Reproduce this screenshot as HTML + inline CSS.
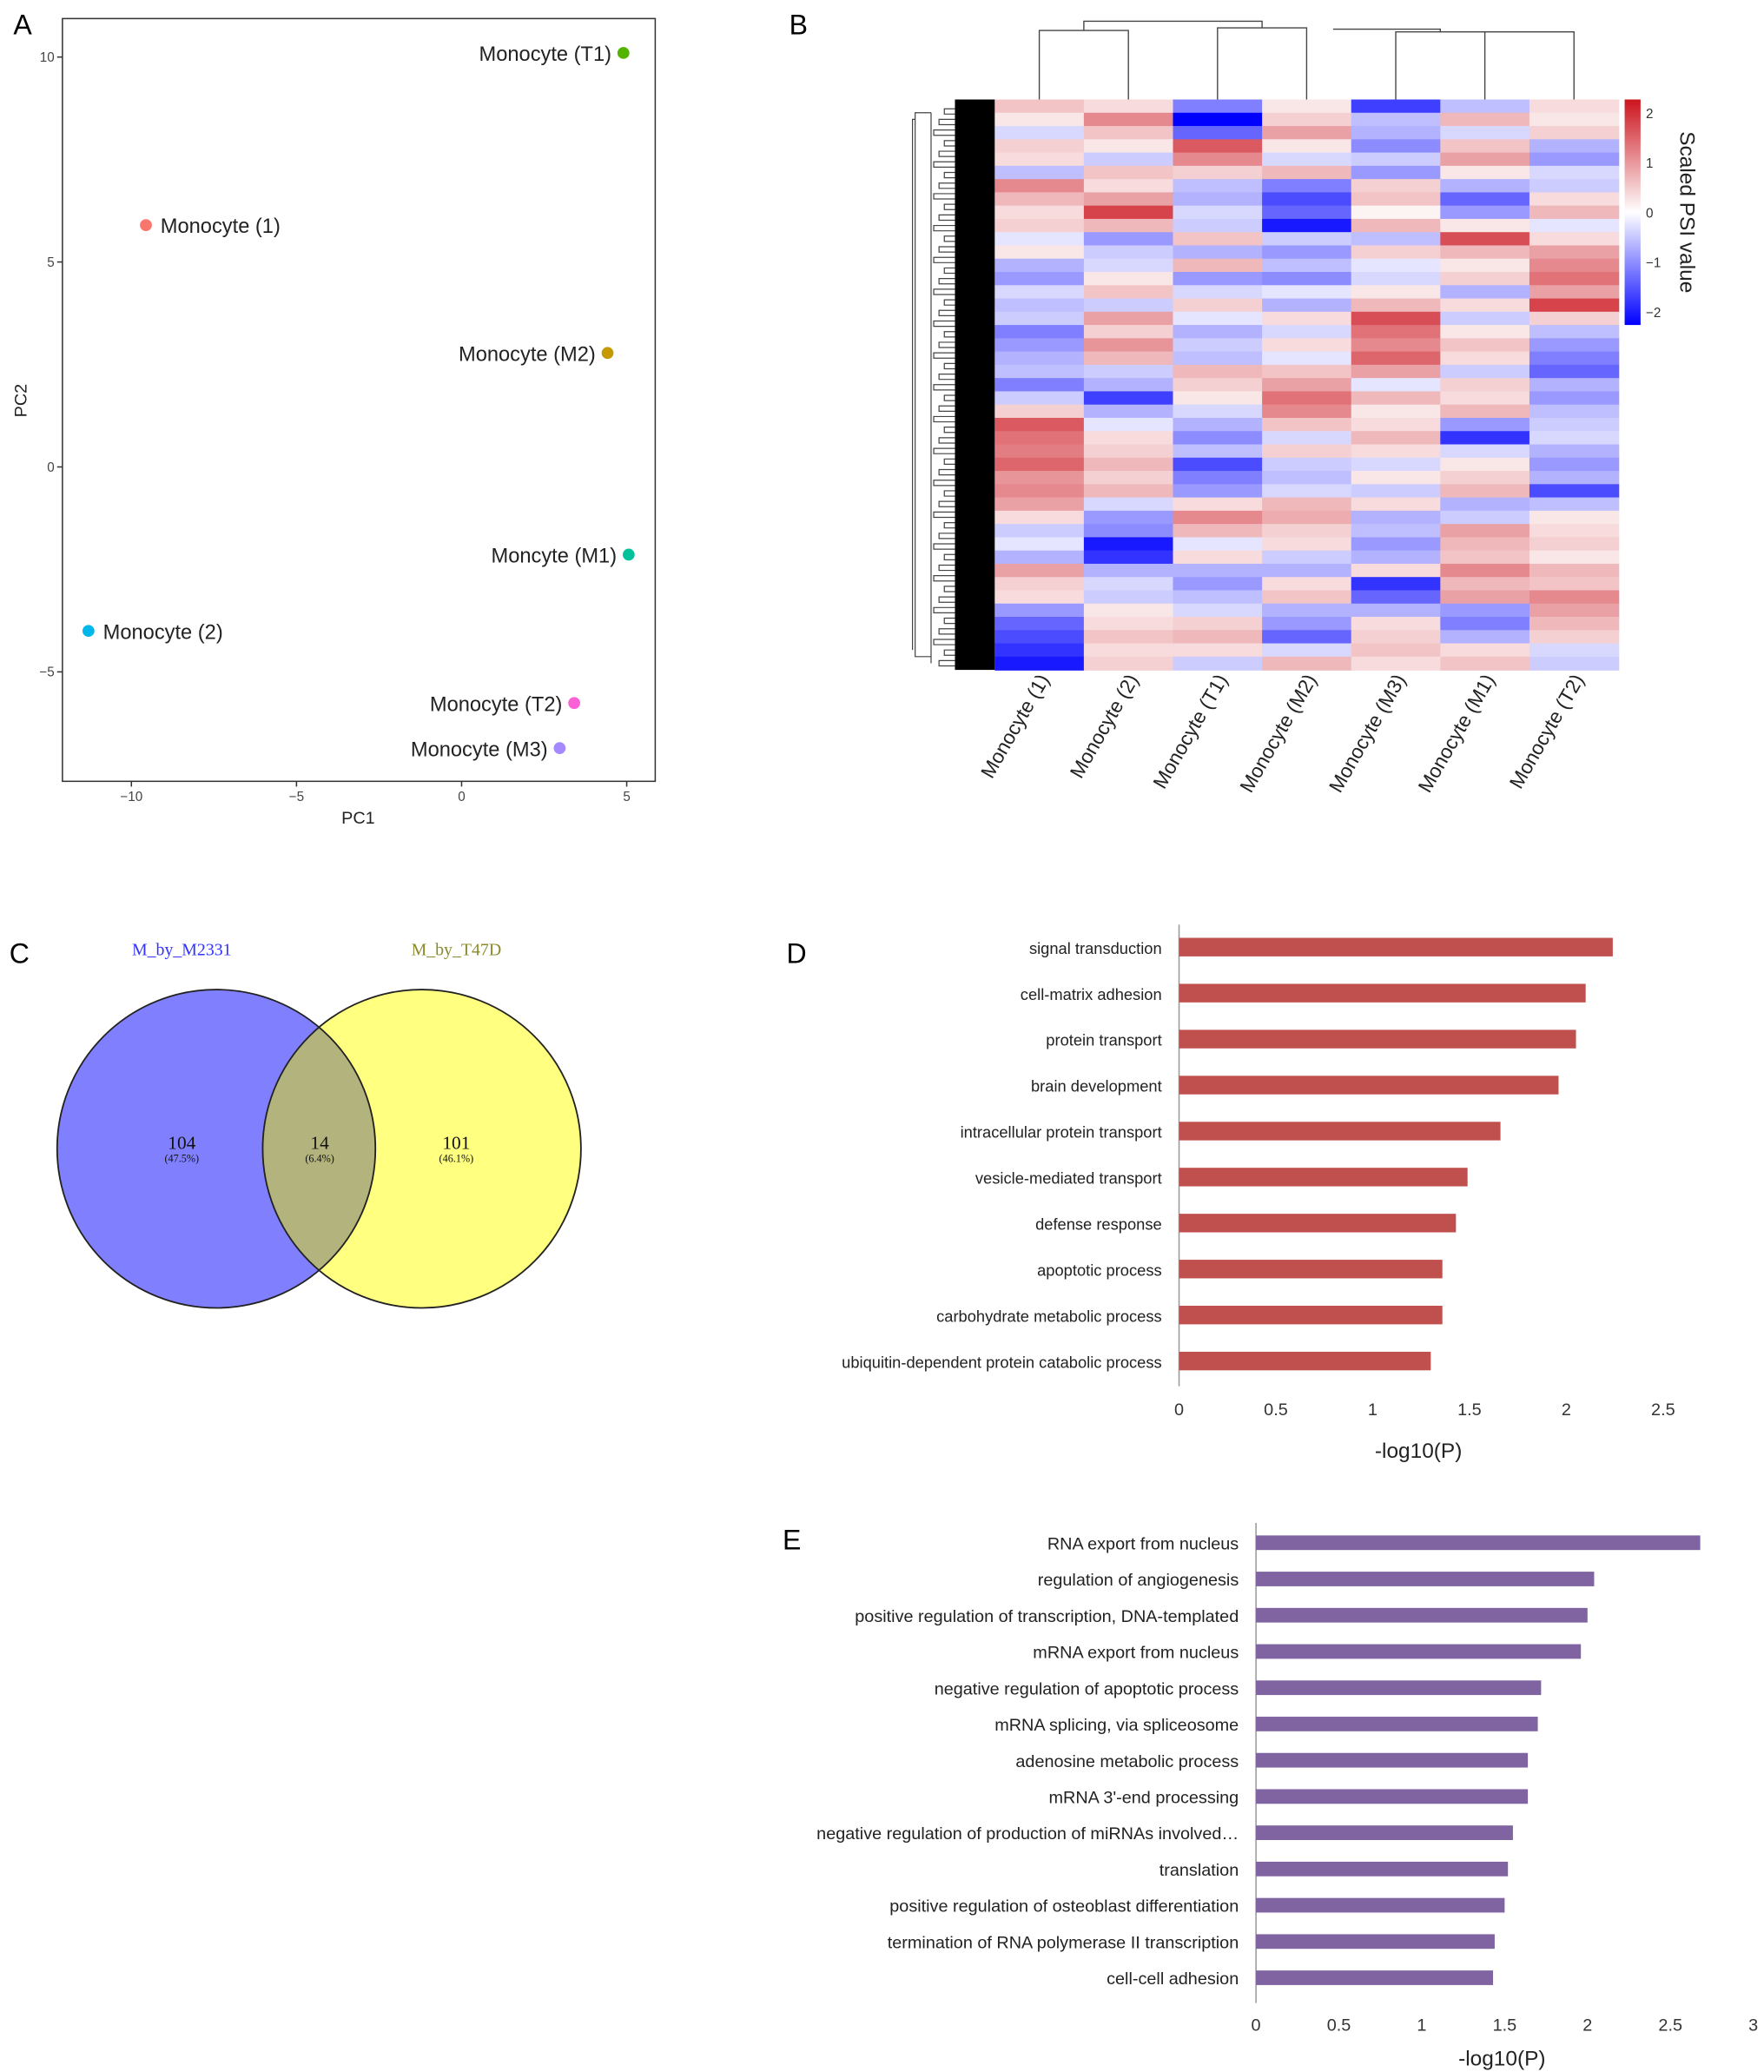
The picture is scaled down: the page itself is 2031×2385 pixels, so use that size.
<!DOCTYPE html>
<html><head><meta charset="utf-8"><style>
html,body{margin:0;padding:0;background:#fff}
svg{display:block;font-family:"Liberation Sans",sans-serif}
</style></head><body>
<svg id="fig" width="2031" height="2385" viewBox="0 0 1330 1562" xmlns="http://www.w3.org/2000/svg"></svg>
<script>
// ---- Panel A data ----
const pcaLabels=["Monocyte (T1)","Monocyte (1)","Monocyte (M2)","Moncyte (M1)","Monocyte (2)","Monocyte (T2)","Monocyte (M3)"];
const pc1=[4.9,-9.56,4.42,5.06,-11.3,3.41,2.97];
const pc2=[10.1,5.9,2.78,-2.14,-4.0,-5.76,-6.86];
const pcaColors=["#53b400","#f8766d","#c49a00","#00c19a","#00b6eb","#fb61d7","#a58aff"];
const pcaXTicks=[-10,-5,0,5];
const pcaYTicks=[10,5,0,-5];
// ---- Panel B data ----
const hmCols=["Monocyte (1)","Monocyte (2)","Monocyte (T1)","Monocyte (M2)","Monocyte (M3)","Monocyte (M1)","Monocyte (T2)"];
const hmRows=[
[0.5,0.3,-1,0.2,-1.5,-0.5,0.3],[0.2,1,-2,0.4,-0.5,0.6,0.2],[-0.3,0.5,-1.2,0.8,-0.6,-0.3,0.4],
[0.4,0.2,1.4,0.2,-0.9,0.5,-0.6],[0.3,-0.4,1,-0.3,-0.4,0.8,-0.8],[-0.5,0.5,0.4,0.6,-0.8,0.2,-0.3],
[1,0.3,-0.5,-1,0.4,-0.6,-0.4],[0.6,0.8,-0.6,-1.4,0.5,-1.2,0.3],[0.3,1.6,-0.3,-1.2,0.1,-0.8,0.6],
[0.4,0.6,-0.4,-1.8,0.6,0.2,-0.2],[-0.2,-0.8,0.5,-0.4,-0.5,1.5,0.3],[0.2,-0.4,-0.6,-0.8,0.4,0.6,0.8],
[-0.6,-0.3,0.6,-0.5,-0.2,0.2,1],[-0.8,0.2,-0.8,-0.9,-0.3,0.4,1.2],[-0.3,0.5,-0.3,-0.2,0.2,-0.6,0.8],
[-0.5,-0.4,0.4,-0.6,0.6,0.3,1.6],[-0.4,0.8,-0.2,0.3,1.5,-0.4,0.4],[-1,0.4,-0.6,-0.3,1.2,0.2,-0.5],
[-0.8,0.9,-0.4,0.3,1,0.5,-0.8],[-0.6,0.6,-0.5,-0.2,1.3,0.3,-1],[-0.5,-0.4,0.6,0.5,0.8,-0.4,-1.2],
[-1,-0.6,0.4,0.8,-0.2,0.4,-0.6],[-0.4,-1.5,0.2,1.2,0.6,0.3,-0.8],[0.4,-0.6,-0.3,1,0.2,0.6,-0.5],
[1.4,-0.2,-0.6,0.5,0.3,-0.8,-0.4],[1.2,0.3,-0.9,-0.3,0.6,-1.6,-0.3],[1.1,0.4,-0.5,0.4,0.3,-0.3,-0.6],
[1.3,0.6,-1.4,-0.4,-0.3,0.2,-0.8],[0.9,0.4,-1,-0.5,0.2,0.4,-0.6],[1,0.6,-0.8,-0.3,-0.4,0.6,-1.4],
[0.8,-0.3,0.3,0.6,0.3,-0.6,-0.5],[0.3,-0.8,1,0.7,-0.6,-0.4,0.2],[-0.4,-0.9,0.6,0.4,-0.5,0.8,0.3],
[-0.2,-1.8,-0.2,0.3,-0.8,0.6,0.4],[-0.6,-1.6,0.3,-0.4,-0.6,0.5,0.2],[0.8,-0.6,-0.6,-0.6,0.3,1,0.6],
[0.4,-0.3,-0.8,0.3,-1.6,0.6,0.5],[0.3,-0.4,-0.5,0.5,-1.2,0.8,1],[-0.8,0.2,-0.3,-0.6,-0.6,-0.8,0.8],
[-1.2,0.3,0.4,-0.8,0.3,-1,0.6],[-1.4,0.5,0.6,-1.2,0.4,-0.6,0.4],[-1.6,0.3,0.3,-0.3,0.5,0.3,-0.3],
[-1.8,0.4,-0.4,0.6,0.3,0.5,-0.4]];
const cbTicks=[2,1,0,-1,-2];
// ---- Panel D data ----
const dTerms=["signal transduction","cell-matrix adhesion","protein transport","brain development","intracellular protein transport","vesicle-mediated transport","defense response","apoptotic process","carbohydrate metabolic process","ubiquitin-dependent protein catabolic process"];
const dValues=[2.24,2.1,2.05,1.96,1.66,1.49,1.43,1.36,1.36,1.30];
const dTicks=["0","0.5","1","1.5","2","2.5"];
// ---- Panel E data ----
const eTerms=["RNA export from nucleus","regulation of angiogenesis","positive regulation of transcription, DNA-templated","mRNA export from nucleus","negative regulation of apoptotic process","mRNA splicing, via spliceosome","adenosine metabolic process","mRNA 3'-end processing","negative regulation of production of miRNAs involved…","translation","positive regulation of osteoblast differentiation","termination of RNA polymerase II transcription","cell-cell adhesion"];
const eValues=[2.68,2.04,2.0,1.96,1.72,1.70,1.64,1.64,1.55,1.52,1.50,1.44,1.43];
const eTicks=["0","0.5","1","1.5","2","2.5","3"];

const NS="http://www.w3.org/2000/svg";
const svg=document.getElementById('fig');
function el(tag,attrs,parent,text){const e=document.createElementNS(NS,tag);for(const k in attrs)e.setAttribute(k,attrs[k]);if(text!==undefined)e.textContent=text;(parent||svg).appendChild(e);return e;}
function grp(name){const g=el('g',{});


return g;}

[["A",10,26],["B",595,26],["C",7,726],["D",593,726],["E",590,1168]].forEach(p=>{
 const t=el('text',{x:p[1],y:p[2],'font-size':21,fill:'#000'},svg,p[0]);
 
 
});

(function(){
 const g=grp('pca-plot');
 const sx=v=>348+v*24.9, sy=v=>352-v*30.9;
 const frame=el('rect',{x:47,y:14,width:447,height:575,fill:'none',stroke:'#333','stroke-width':1},g);
 
 
 pcaXTicks.forEach(t=>{el('line',{x1:sx(t),x2:sx(t),y1:589,y2:593,stroke:'#333'},g);
  const tx=el('text',{x:sx(t),y:604,'font-size':10,'text-anchor':'middle',fill:'#444'},g,t<0?'−'+(-t):t);
  
  });
 pcaYTicks.forEach(t=>{el('line',{x1:43,x2:47,y1:sy(t),y2:sy(t),stroke:'#333'},g);
  const ty=el('text',{x:41,y:sy(t)+3.5,'font-size':10,'text-anchor':'end',fill:'#444'},g,t<0?'−'+(-t):t);
  
  });
 const xt=el('text',{x:270,y:621,'font-size':13,'text-anchor':'middle',fill:'#222'},g,'PC1');
 
 
 const yt=el('text',{x:0,y:0,'font-size':13,'text-anchor':'middle',fill:'#222',transform:'translate(20,302) rotate(-90)'},g,'PC2');
 
 
 pc1.forEach((v,i)=>{
  const cx=sx(v), cy=sy(pc2[i]);
  const c=el('circle',{cx:cx,cy:cy,r:4.5,fill:pcaColors[i]},g);
  
  
  const left = cx>250;
  const l=el('text',{x:left?cx-9:cx+11,y:cy+6,'font-size':15.5,'text-anchor':left?'end':'start',fill:'#222'},g,pcaLabels[i]);
  
  
 });
})();

(function(){
 const g=grp('heatmap');
 const x0=750,y0=75,cw=67.2,rh=430/hmRows.length;
 function col(v){v=Math.max(-2,Math.min(2,v));let r,gg,b;
  if(v>=0){const t=v/2;r=255-t*(255-204);gg=255-t*(255-20);b=255-t*(255-30);}
  else{const t=-v/2;r=255-t*255;gg=255-t*255;b=255;}
  return `rgb(${r|0},${gg|0},${b|0})`;}
 hmRows.forEach((row,ri)=>row.forEach((v,ci)=>{
  const r=el('rect',{x:x0+ci*cw,y:y0+ri*rh,width:cw+0.5,height:rh+0.5,fill:col(v)},g);
  
  
 }));
 const blk=el('rect',{x:720,y:75,width:30,height:430,fill:'#000'},g);
 
 
 let d='';for(let y=82;y<505;y+=8){d+=`M720 ${y}H${702+((y*7)%12)}V${y+4}H720 `;}
 d+='M702 85V500M702 85H690V495H702 M690 90H688V490';
 const rd=el('path',{d:d,fill:'none',stroke:'#444','stroke-width':0.8},g);
 
 
 const cx=i=>x0+cw*(i+0.5);
 const cd=`M${cx(0)} 75V23H${cx(1)}V75 M${cx(2)} 75V21H${cx(3)}V75 M${cx(4)} 75V24H${cx(5)}V75 M${cx(6)} 75V24H${cx(5)} M${(cx(0)+cx(1))/2} 23V16H${(cx(2)+cx(3))/2}V21 M${(cx(4)+cx(5))/2} 24V22H${cx(3)+20}`;
 const cde=el('path',{d:cd,fill:'none',stroke:'#444','stroke-width':0.9},g);
 
 
 hmCols.forEach((n,i)=>{
  const t=el('text',{x:0,y:0,'font-size':15,'text-anchor':'end',fill:'#222',transform:`translate(${cx(i)+8},512) rotate(-60)`},g,n);
  
  
 });
 const defs=el('defs',{},g);
 const lg=el('linearGradient',{id:'cbg',x1:0,y1:0,x2:0,y2:1},defs);
 [[0,'#cc141e'],[0.5,'#ffffff'],[1,'#0000ff']].forEach(s=>el('stop',{offset:s[0],'stop-color':s[1]},lg));
 const cb=el('rect',{x:1225,y:75,width:12,height:170,fill:'url(#cbg)'},g);
 
 
 cbTicks.forEach(t=>{const y=160-t*37.5;
  const tt=el('text',{x:1241,y:y+4,'font-size':10,fill:'#333'},g,t<0?'−'+(-t):t);
  
  });
 const ct=el('text',{x:0,y:0,'font-size':16,'text-anchor':'middle',fill:'#222',transform:'translate(1267,160) rotate(90)'},g,'Scaled PSI value');
 
 
})();

(function(){
 const g=grp('venn-diagram');
 const defs=el('defs',{},g);
 const cp=el('clipPath',{id:'c1'},defs);el('circle',{cx:163,cy:866,r:120},cp);
 const a=el('circle',{cx:163,cy:866,r:120,fill:'#8080ff'},g);
 
 const b=el('circle',{cx:318,cy:866,r:120,fill:'#ffff80'},g);
 
 const o=el('circle',{cx:318,cy:866,r:120,fill:'#b3b37d','clip-path':'url(#c1)'},g);
 
 el('circle',{cx:163,cy:866,r:120,fill:'none',stroke:'#222','stroke-width':1.2},g);
 el('circle',{cx:318,cy:866,r:120,fill:'none',stroke:'#222','stroke-width':1.2},g);
 const ser='"Liberation Serif",serif';
 [["M_by_M2331",137,'#3333ff'],["M_by_T47D",344,'#8a8a2a']].forEach(s=>{
  const t=el('text',{x:s[1],y:720,'font-size':13,'text-anchor':'middle',fill:s[2],'font-family':ser},g,s[0]);
  });
 [["104","(47.5%)",137],["14","(6.4%)",241],["101","(46.1%)",344]].forEach(s=>{
  const t=el('text',{x:s[2],y:866,'font-size':14,'text-anchor':'middle',fill:'#111','font-family':ser},g,s[0]);
  
  const p=el('text',{x:s[2],y:876,'font-size':8,'text-anchor':'middle',fill:'#111','font-family':ser},g,s[1]);
  });
})();

function barChart(name,terms,vals,ticks,x0,scale,yFirst,step,bh,axisTop,axisBot,tickY,titleY,color,fs){
 const g=grp(name);
 const sx=v=>x0+v*scale;
 const ax=el('line',{x1:x0,x2:x0,y1:axisTop,y2:axisBot,stroke:'#999','stroke-width':1},g);
 
 terms.forEach((t,i)=>{const y=yFirst+i*step;
  const r=el('rect',{x:x0,y:y-bh/2,width:sx(vals[i])-x0,height:bh,fill:color},g);
  
  const l=el('text',{x:x0-13,y:y+5,'font-size':fs,'text-anchor':'end',fill:'#222'},g,t);
  });
 ticks.forEach(t=>{const x=sx(parseFloat(t));
  const tl=el('text',{x:x,y:tickY,'font-size':13,'text-anchor':'middle',fill:'#333'},g,t);
  });
 const tt=el('text',{x:(x0+sx(parseFloat(ticks[ticks.length-1])))/2-2,y:titleY,'font-size':16,'text-anchor':'middle',fill:'#222'},g,'-log10(P)');
 
}
barChart('go-bar-chart-d',dTerms,dValues,dTicks,889,146,714,34.67,14,697,1045,1067,1099,'#c0504d',12);
barChart('go-bar-chart-e',eTerms,eValues,eTicks,947,125,1163,27.33,11,1148,1510,1531,1557,'#8064a2',13);
</script>
</body></html>
